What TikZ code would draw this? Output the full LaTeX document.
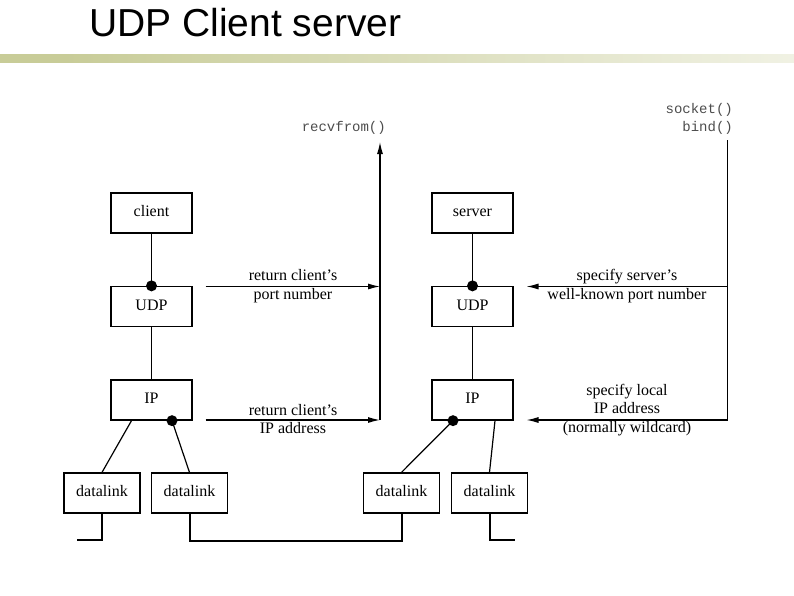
\documentclass[tikz,border=0pt]{standalone}
\usepackage{fontspec}
\setmainfont{Liberation Serif}
\setsansfont{Liberation Sans}
\setmonofont{Liberation Mono}
\usetikzlibrary{arrows.meta}

\definecolor{barolive}{RGB}{200,204,152}
\pgfdeclarehorizontalshading{barfade}{100bp}{color(0bp)=(barolive); color(29bp)=(barolive); color(92bp)=(white); color(100bp)=(white)}

\begin{document}
\begin{tikzpicture}
  [x=1pt,y=-1pt,every node/.style={inner sep=0pt},
   layer/.style={draw,line width=1.3pt,minimum width=81pt,minimum height=40pt,text height=10.5pt,text depth=3pt,font=\fontsize{16}{19}\selectfont},
   link/.style={layer,minimum width=76pt},
   dot/.style={circle,fill,minimum size=11pt},
   note/.style={align=center,font=\fontsize{16}{18.5}\selectfont},
   call/.style={align=right,text=black!70,font=\fontsize{14}{18}\selectfont\ttfamily},
   wire/.style={line width=1.2pt},
   bus/.style={line width=2pt},
   flow/.style={line width=1.2pt,-{Latex[length=12pt,width=6pt]}}]
  \useasboundingbox (0,0) rectangle (794,595);

  \node [anchor=base west,font=\sffamily\fontsize{39}{44}\selectfont] (title) at (89,36) {UDP Client server};
  \shade [shading=barfade] (0,54) rectangle (794,62);

  \node [layer] (client) at (151.5,213) {client};
  \node [layer] (cudp) at (151.5,306.5) {UDP};
  \node [layer] (cip) at (151.5,400) {IP};
  \node [layer] (server) at (472.5,213) {server};
  \node [layer] (sudp) at (472.5,306.5) {UDP};
  \node [layer] (sip) at (472.5,400) {IP};
  \node [link] (dl1) at (102,493) {datalink};
  \node [link] (dl2) at (189.5,493) {datalink};
  \node [link] (dl3) at (401.5,493) {datalink};
  \node [link] (dl4) at (489.5,493) {datalink};

  \node [dot] (cd1) at (cudp.north) {};
  \node [dot] (cd2) at ([xshift=20.5pt]cip.south) {};
  \node [dot] (sd1) at (sudp.north) {};
  \node [dot] (sd2) at ([xshift=-19.5pt]sip.south) {};
  \coordinate (cip1) at ([xshift=-20pt]cip.south);
  \coordinate (sip2) at ([xshift=22.5pt]sip.south);

  \foreach \from/\to in {client.south/cd1.center,cudp.south/cip.north,cip1/dl1.north,cd2.center/dl2.north,
                         server.south/sd1.center,sudp.south/sip.north,sd2.center/dl3.north,sip2/dl4.north}
    \draw [wire] (\from) -- (\to);

  % network at the bottom
  \coordinate (end1) at (77,540);
  \coordinate (end4) at (515,540);
  \draw [bus] (dl1.south) |- (end1);
  \draw [bus] (dl2.south) -- ++(0,27) -| (dl3.south);
  \draw [bus] (dl4.south) |- (end4);

  % client side
  \coordinate (cport) at (205.5,286.5);
  \coordinate (caddr) at (205.5,420);
  \coordinate (rport) at (380,286.5);
  \coordinate (raddr) at (380,420);
  \coordinate (rtop) at (380,142);
  \draw [flow] (cport) -- (rport);
  \draw [flow] (caddr) -- (raddr);
  \draw [flow] (raddr) -- (rtop);
  \node [call,anchor=east] (recv) at (386,128) {recvfrom()};
  \node [note] (lport) at (293,286) {return client's\\port number};
  \node [note] (laddr) at (293,419) {return client's\\IP address};

  % server side
  \coordinate (btop) at (727.5,140);
  \coordinate (bport) at (727.5,286.5);
  \coordinate (baddr) at (727.5,420);
  \coordinate (sport) at (526.5,286.5);
  \coordinate (saddr) at (526.5,420);
  \draw [wire] (btop) -- (baddr);
  \draw [flow] (bport) -- (sport);
  \draw [flow] (baddr) -- (saddr);
  \node [call,anchor=east] (sock) at (733,119) {socket()\\bind()};
  \node [note] (lsport) at (627,286) {specify server's\\well-known port number};
  \node [note] (lsaddr) at (627,410) {specify local\\IP address\\(normally wildcard)};
\end{tikzpicture}
\end{document}
